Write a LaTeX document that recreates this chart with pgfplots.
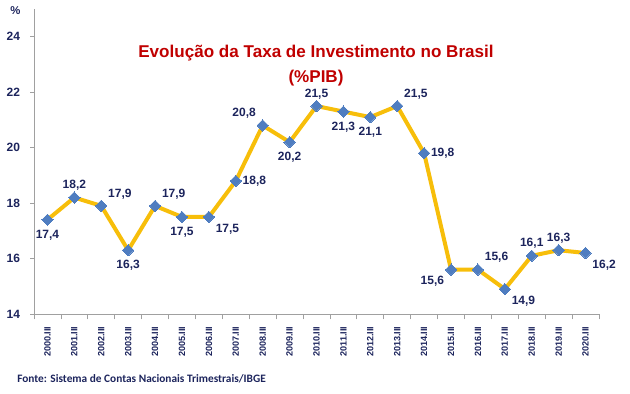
\documentclass[border=0pt]{standalone}
\usepackage{fontspec}
\setmainfont{Liberation Sans}
\newfontfamily\carlito{Carlito}
\usepackage{pgfplots}
\pgfplotsset{compat=1.18}
\definecolor{gold}{RGB}{247,190,10}
\definecolor{mblue}{RGB}{79,125,192}
\definecolor{navy}{RGB}{28,36,92}
\definecolor{tred}{RGB}{192,0,0}
\definecolor{axgray}{RGB}{160,160,160}
\pgfplotsset{lbl/.style={draw=none, mark=none, nodes near coords, point meta=y,
  nodes near coords style={anchor=#1, font=\bfseries\fontsize{9}{10}\selectfont, text=navy, inner sep=5pt,
    /pgf/number format/fixed, /pgf/number format/precision=1, /pgf/number format/fixed zerofill,
    /pgf/number format/use comma, /pgf/number format/assume math mode=true}}}
\begin{document}
\begin{tikzpicture}
\useasboundingbox (0,0) rectangle (472.5pt,294.75pt);
\begin{axis}[
  at={(25.5pt,59.25pt)}, anchor=south west,
  scale only axis, width=423.75pt, height=228.75pt,
  xmin=-0.5, xmax=20.5, ymin=14, ymax=25,
  axis x line*=bottom, axis y line*=left,
  axis line style={axgray, line width=0.6pt, -},
  xtick={0,...,20},
  xticklabels={2000.III,2001.III,2002.III,2003.III,2004.III,2005.III,2006.III,2007.III,2008.III,2009.III,2010.III,2011.III,2012.III,2013.III,2014.III,2015.III,2016.III,2017.III,2018.III,2019.III,2020.III},
  minor xtick={-0.5,0.5,...,20.5},
  ytick={14,16,...,24},
  x tick style={draw=none},
  minor x tick style={draw=axgray, line width=0.6pt},
  minor tick length=4pt,
  major tick length=3pt,
  tick align=outside,
  ytick style={axgray, line width=0.6pt},
  yticklabel style={font=\bfseries\fontsize{9}{10}\selectfont, text=navy, xshift=-4pt},
  xticklabel style={font=\bfseries\fontsize{6.8}{8}\selectfont, text=navy, rotate=90, anchor=east, xshift=-3pt},
  /pgf/number format/assume math mode=true,
  clip=false,
]
\addplot[gold, line width=3pt, mark=square*, mark size=3pt,
  mark options={rotate=45, fill=mblue, draw=mblue, line width=0pt}]
  coordinates {(0,17.4)(1,18.2)(2,17.9)(3,16.3)(4,17.9)(5,17.5)(6,17.5)(7,18.8)(8,20.8)(9,20.2)(10,21.5)(11,21.3)(12,21.1)(13,21.5)(14,19.8)(15,15.6)(16,15.6)(17,14.9)(18,16.1)(19,16.3)(20,16.2)};
\addplot[lbl=north, nodes near coords style={yshift=-2.5pt}] coordinates {(0,17.4)(3,16.3)(5,17.5)(9,20.2)(11,21.3)(12,21.1)};
\addplot[lbl=south] coordinates {(1,18.2)(10,21.5)(18,16.1)(19,16.3)};
\addplot[lbl=south west] coordinates {(2,17.9)(4,17.9)(13,21.5)(16,15.6)};
\addplot[lbl=north west] coordinates {(6,17.5)(17,14.9)(20,16.2)};
\addplot[lbl=west] coordinates {(7,18.8)(14,19.8)};
\addplot[lbl=south east] coordinates {(8,20.8)};
\addplot[lbl=north east] coordinates {(15,15.6)};
\end{axis}
\node[font=\bfseries\fontsize{12.8}{15}\selectfont, text=tred] at (237pt,255pt) {Evolução da Taxa de Investimento no Brasil};
\node[font=\bfseries\fontsize{12.8}{15}\selectfont, text=tred] at (237pt,236.5pt) {(\%PIB)};
\node[font=\bfseries\fontsize{8.5}{9}\selectfont, text=navy] at (11.5pt,287pt) {\%};
\node[font=\carlito\bfseries\fontsize{8.5}{9}\selectfont, text=navy, anchor=west, inner sep=0pt] at (12.75pt,10.5pt) {Fonte: Sistema de Contas Nacionais Trimestrais/IBGE};
\end{tikzpicture}
\end{document}
